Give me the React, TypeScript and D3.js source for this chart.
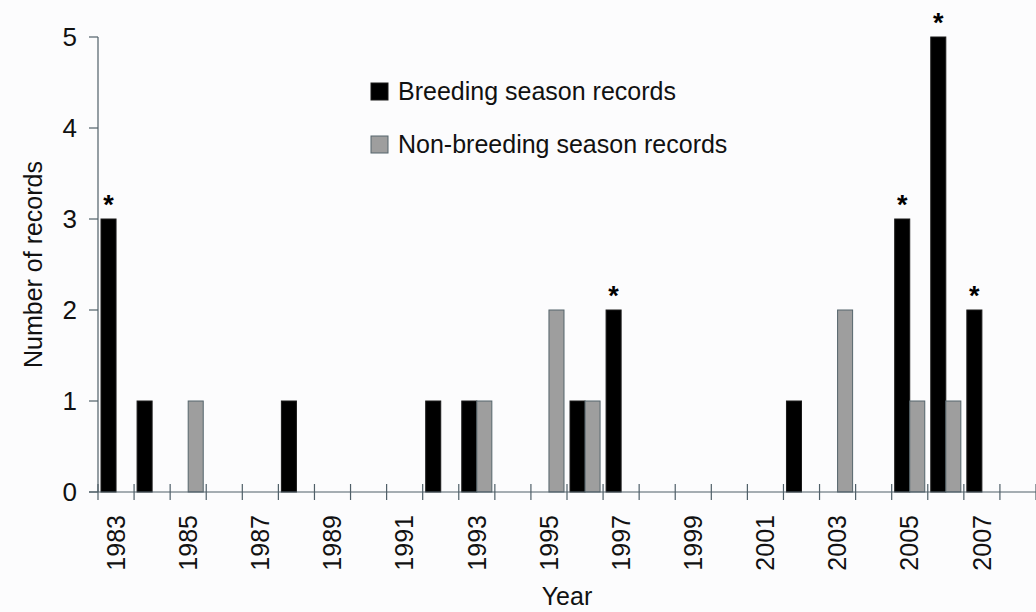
import React from "react";
import * as d3 from "d3";

const width = 1036;
const height = 612;
const margin = { top: 37, right: 0, bottom: 120, left: 98 };

const years = d3.range(1983, 2009);
const yearLabels = [1983, 1985, 1987, 1989, 1991, 1993, 1995, 1997, 1999, 2001, 2003, 2005, 2007];
const seriesNames = ["Breeding season records", "Non-breeding season records"];
const breeding = [
  { year: 1983, value: 3 },
  { year: 1984, value: 1 },
  { year: 1988, value: 1 },
  { year: 1992, value: 1 },
  { year: 1993, value: 1 },
  { year: 1996, value: 1 },
  { year: 1997, value: 2 },
  { year: 2002, value: 1 },
  { year: 2005, value: 3 },
  { year: 2006, value: 5 },
  { year: 2007, value: 2 },
];
const nonBreeding = [
  { year: 1985, value: 1 },
  { year: 1993, value: 1 },
  { year: 1995, value: 2 },
  { year: 1996, value: 1 },
  { year: 2003, value: 2 },
  { year: 2005, value: 1 },
  { year: 2006, value: 1 },
];
// years marked with an asterisk (breeding bars)
const starred = [1983, 1997, 2005, 2006, 2007];
const yTicks = [0, 1, 2, 3, 4, 5];

const axisColor = "#4f5f68";
const font = "'Liberation Sans', Arial, sans-serif";

export default function App() {
  const x0 = d3
    .scaleBand<number>()
    .domain(years)
    .range([margin.left, width - margin.right])
    .padding(0);
  const x1 = d3
    .scaleBand<string>()
    .domain(seriesNames)
    .range([0, x0.step()])
    .paddingInner(0)
    .paddingOuter(0.2);
  const y = d3
    .scaleLinear()
    .domain([0, 5])
    .range([height - margin.bottom - 0, margin.top]);

  const y0 = y(0);
  const series = [
    { name: seriesNames[0], data: breeding, fill: "#000000", stroke: "#1a1a1a" },
    { name: seriesNames[1], data: nonBreeding, fill: "#9e9e9e", stroke: "#55656c" },
  ];
  const boundaries = years.map(d => x0(d)!).concat([x0(years[years.length - 1])! + x0.step()]);

  return (
    <svg
      width={width}
      height={height}
      style={{ position: "absolute", left: 0, top: 0, background: "#fcfcfd" }}
      fontFamily={font}
    >
      <rect x={0} y={0} width={width} height={height} fill="#fcfcfd" />

      {series.map(s => (
        <g key={s.name}>
          {s.data.map(d => (
            <rect
              key={d.year}
              x={x0(d.year)! + x1(s.name)!}
              y={y(d.value)}
              width={x1.bandwidth()}
              height={y0 - y(d.value)}
              fill={s.fill}
              stroke={s.stroke}
              strokeWidth={1}
            />
          ))}
        </g>
      ))}

      {breeding
        .filter(d => starred.includes(d.year))
        .map(d => (
          <text
            key={d.year}
            x={x0(d.year)! + x1(seriesNames[0])! + x1.bandwidth() / 2}
            y={y(d.value) - 5}
            textAnchor="middle"
            fontSize={27}
            fontWeight="bold"
            fill="#000"
          >
            *
          </text>
        ))}

      {/* y axis */}
      <line x1={margin.left} x2={margin.left} y1={y(5)} y2={y0} stroke={axisColor} strokeWidth={1.2} />
      {yTicks.map(t => (
        <g key={t}>
          <line x1={margin.left - 9} x2={margin.left} y1={y(t)} y2={y(t)} stroke={axisColor} strokeWidth={1.2} />
          <text x={77} y={y(t)} dy="0.36em" textAnchor="end" fontSize={26} fill="#111">
            {t}
          </text>
        </g>
      ))}

      {/* x axis */}
      <line x1={margin.left - 9} x2={width} y1={y0} y2={y0} stroke={axisColor} strokeWidth={1.2} />
      {boundaries.map((b, i) => (
        <line key={i} x1={b} x2={b} y1={y0 - 8} y2={y0 + 8} stroke={axisColor} strokeWidth={1.2} />
      ))}
      {yearLabels.map(yr => (
        <text
          key={yr}
          transform={`translate(${x0(yr)! + x0.step() / 2},${y0 + 23}) rotate(-90)`}
          textAnchor="end"
          dy="0.35em"
          fontSize={25}
          fill="#111"
        >
          {yr}
        </text>
      ))}

      <text x={(margin.left + width) / 2} y={605} textAnchor="middle" fontSize={25} fill="#111">
        Year
      </text>
      <text
        transform={`translate(42,${(y(5) + y0) / 2}) rotate(-90)`}
        textAnchor="middle"
        fontSize={25}
        fill="#111"
      >
        Number of records
      </text>

      {/* legend */}
      {series.map((s, i) => (
        <g key={s.name} transform={`translate(371,${83 + i * 53})`}>
          <rect x={0} y={0} width={17} height={17} fill={s.fill} stroke={s.stroke} strokeWidth={1} />
          <text x={27} y={17} fontSize={25} fill="#111">
            {s.name}
          </text>
        </g>
      ))}
    </svg>
  );
}
